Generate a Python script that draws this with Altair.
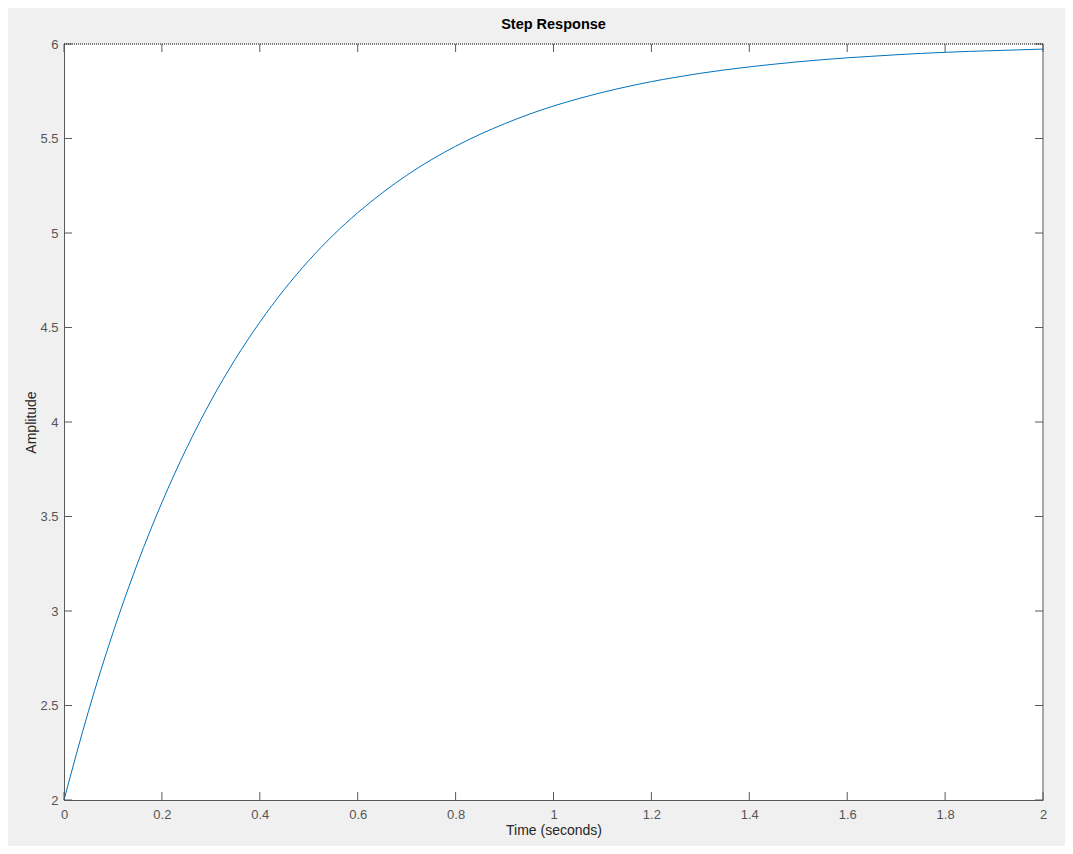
import altair as alt
import pandas as pd

# Step response samples (time in s, amplitude)
time_s = [0.00, 0.05, 0.10, 0.15, 0.20, 0.25, 0.30, 0.35, 0.40, 0.45,
          0.50, 0.55, 0.60, 0.65, 0.70, 0.75, 0.80, 0.85, 0.90, 0.95,
          1.00, 1.05, 1.10, 1.15, 1.20, 1.25, 1.30, 1.35, 1.40, 1.45,
          1.50, 1.55, 1.60, 1.65, 1.70, 1.75, 1.80, 1.85, 1.90, 1.95, 2.00]
amplitude = [2.000, 2.470, 2.885, 3.251, 3.574, 3.859, 4.111, 4.333, 4.528, 4.701,
             4.854, 4.989, 5.107, 5.212, 5.305, 5.387, 5.459, 5.522, 5.578, 5.628,
             5.672, 5.710, 5.744, 5.774, 5.801, 5.824, 5.845, 5.863, 5.879, 5.893,
             5.906, 5.917, 5.927, 5.935, 5.943, 5.950, 5.956, 5.961, 5.965, 5.969, 5.973]
steady_state = [6.0]
x_end = [2.0]
x_ticks = [0, 0.2, 0.4, 0.6, 0.8, 1.0, 1.2, 1.4, 1.6, 1.8, 2.0]
y_ticks = [2, 2.5, 3, 3.5, 4, 4.5, 5, 5.5, 6]

W, H = 979, 756
AX = "#595959"
LAB = "#555555"
FONT = "Liberation Sans"

df = pd.DataFrame({"t": time_s, "a": amplitude})
xs = alt.Scale(domain=[0, 2], nice=False, zero=False)
ys = alt.Scale(domain=[2, 6], nice=False, zero=False)

x_axis = alt.Axis(values=x_ticks, format="~g", title="Time (seconds)",
                  titleBaseline="alphabetic", titleY=34, labelPadding=8,
                  labelFlush=False, labelOverlap=False)
y_axis = alt.Axis(values=y_ticks, format="~g", title="Amplitude",
                  titleBaseline="alphabetic", titleX=-29, labelPadding=6,
                  labelFlush=False, labelOverlap=False)

line = alt.Chart(df).mark_line(color="#0072BD", strokeWidth=1,
                               interpolate="monotone").encode(
    x=alt.X("t:Q", scale=xs, axis=x_axis, title="Time (seconds)"),
    y=alt.Y("a:Q", scale=ys, axis=y_axis, title="Amplitude"),
)

xt = pd.DataFrame({"t": x_ticks})
yt = pd.DataFrame({"a": y_ticks})

tick_b = alt.Chart(xt).mark_rule(color=AX, strokeWidth=1).encode(
    x=alt.X("t:Q", scale=xs, title="Time (seconds)"), y=alt.value(H), y2=alt.value(H - 8))
tick_t = alt.Chart(xt).mark_rule(color=AX, strokeWidth=1).encode(
    x=alt.X("t:Q", scale=xs, title="Time (seconds)"), y=alt.value(0), y2=alt.value(8))
tick_l = alt.Chart(yt).mark_rule(color=AX, strokeWidth=1).encode(
    y=alt.Y("a:Q", scale=ys, title="Amplitude"), x=alt.value(0), x2=alt.value(8))
tick_r = alt.Chart(yt).mark_rule(color=AX, strokeWidth=1).encode(
    y=alt.Y("a:Q", scale=ys, title="Amplitude"), x=alt.value(W), x2=alt.value(W - 8))

right_border = alt.Chart(pd.DataFrame({"t": x_end})).mark_rule(
    color=AX, strokeWidth=1).encode(x=alt.X("t:Q", scale=xs, title="Time (seconds)"))
ss_line = alt.Chart(pd.DataFrame({"a": steady_state})).mark_rule(
    color="#000000", strokeWidth=1, strokeDash=[1, 1]).encode(
    y=alt.Y("a:Q", scale=ys, title="Amplitude"))

chart = alt.layer(
    line, tick_b, tick_t, tick_l, tick_r, right_border, ss_line
).properties(
    width=W, height=H,
    title=alt.TitleParams("Step Response", font=FONT, fontSize=14.5,
                          fontWeight="bold", color="#000000", anchor="middle",
                          offset=6),
    autosize=alt.AutoSizeParams(type="none"),
    padding={"left": 56, "top": 36, "right": 22, "bottom": 46},
    background="#f0f0f0",
).configure_view(
    fill="#ffffff", stroke=None
).configure_axis(
    grid=False, ticks=False, tickSize=0, domainColor=AX, domainWidth=1,
    labelFont=FONT, labelFontSize=13, labelColor=LAB,
    titleFont=FONT, titleFontSize=14, titleColor="#262626",
    titleFontWeight="normal",
)

chart.save("out.html", embed_options={"renderer": "svg", "actions": False})
